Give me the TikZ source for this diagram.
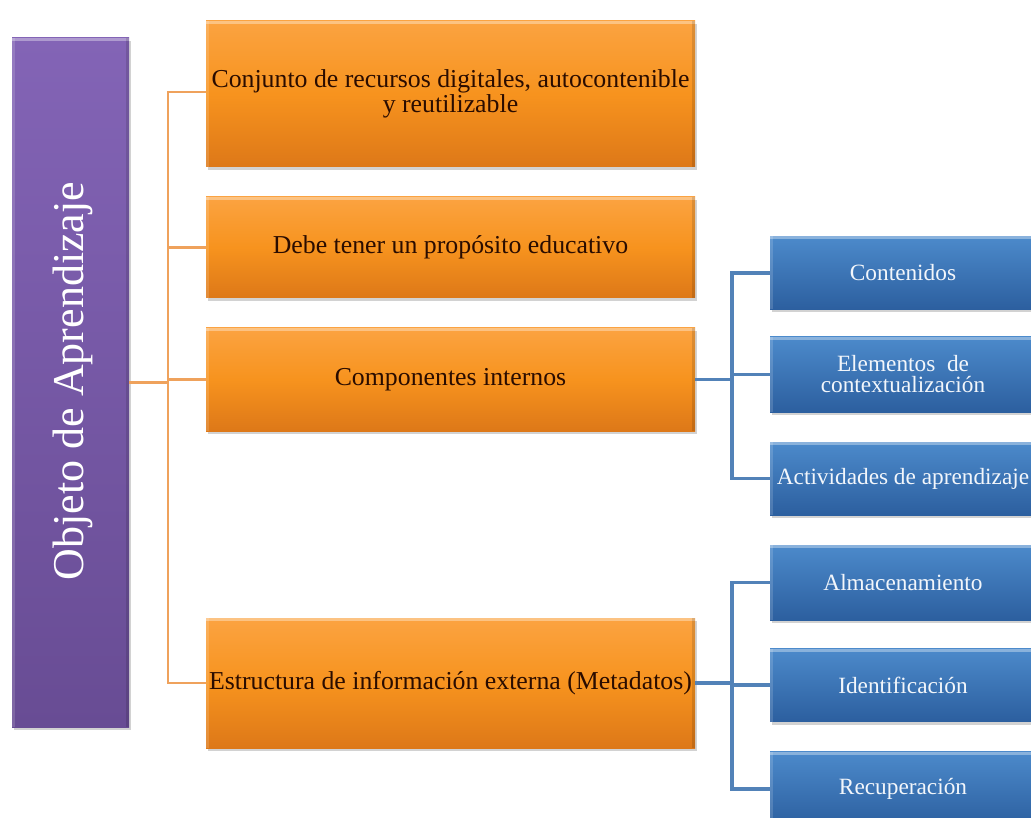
\documentclass[tikz,border=0pt]{standalone}
\usepackage{fontspec}
\setmainfont{Liberation Serif}
\usetikzlibrary{shadows}

\definecolor{purpTop}{HTML}{8364B6}
\definecolor{purpBot}{HTML}{684C94}
\definecolor{orTop}{HTML}{FBA341}
\definecolor{orMid}{HTML}{F7931E}
\definecolor{orBot}{HTML}{DD7818}
\definecolor{blTop}{HTML}{4C8ACB}
\definecolor{blBot}{HTML}{2C5F9F}
\definecolor{orLine}{HTML}{EFA25C}
\definecolor{blLine}{HTML}{5282B8}
\definecolor{orText}{HTML}{2A0C00}
\definecolor{blText}{HTML}{F2F6FB}

\tikzset{
  card/.style={rectangle, inner sep=0pt, align=center,
    drop shadow={opacity=0.35, shadow xshift=2pt, shadow yshift=-3pt},
    path picture={
      \fill[white,opacity=0.35]
        (path picture bounding box.north west) rectangle
        ([yshift=-3pt]path picture bounding box.north east);
      \fill[white,opacity=0.15]
        (path picture bounding box.north west) rectangle
        ([xshift=3pt]path picture bounding box.south west);
      \fill[black,opacity=0.12]
        (path picture bounding box.north east) rectangle
        ([xshift=-3pt]path picture bounding box.south east);
    }},
  purpbox/.style={card, top color=purpTop, bottom color=purpBot,
    minimum width=117pt, minimum height=689pt},
  orbox/.style={card, top color=orTop, bottom color=orBot, middle color=orMid,
    minimum width=489pt, text=orText,
    font=\fontsize{25.8}{28}\selectfont},
  blbox/.style={card, top color=blTop, bottom color=blBot,
    minimum width=266pt, minimum height=73pt, text=blText,
    font=\fontsize{23.3}{25}\selectfont},
  oline/.style={orLine, line width=2.6pt},
  bline/.style={blLine, line width=3.2pt},
}

\begin{document}
\begin{tikzpicture}[x=1pt, y=-1pt]
  \useasboundingbox (0,0) rectangle (1031,818);
  \clip (0,0) rectangle (1031,818);
  \fill[white] (0,0) rectangle (1031,818);

  % left title bar
  \node[purpbox] (purp) at (70.5,382.5) {};
  \node[rotate=90, text=white, font=\fontsize{44}{48}\selectfont]
    (purptxt) at (73,381) {Objeto de Aprendizaje};

  % first-level items
  \node[orbox, minimum height=146pt] (o1) at (450.5,94)
    {Conjunto de recursos digitales, autocontenible\\[-3pt]y reutilizable};
  \node[orbox, minimum height=101pt] (o2) at (450.5,247.5)
    {Debe tener un propósito educativo};
  \node[orbox, minimum height=103pt] (o3) at (450.5,379.5)
    {Componentes internos};
  \node[orbox, minimum height=130pt] (o4) at (450.5,683)
    {Estructura de información externa (Metadatos)};

  % second-level items
  \node[blbox] (b1) at (903,273) {Contenidos};
  \node[blbox, minimum height=75pt] (b2) at (903,374.5)
    {Elementos \ de\\[-4pt]contextualización};
  \node[blbox] (b3) at (903,478.5) {Actividades de aprendizaje};
  \node[blbox, minimum height=75pt] (b4) at (903,582.5) {Almacenamiento};
  \node[blbox] (b5) at (903,685) {Identificación};
  \node[blbox, minimum height=75pt] (b6) at (903,789) {Recuperación};

  % junction points
  \coordinate (jo) at (168,382.5);
  \coordinate (jb) at (732,379.5);
  \coordinate (jc) at (732,683);

  % orange connectors
  \draw[oline] (purp.east) -- (jo);
  \draw[oline] ([yshift=2pt]o1.west) -| (jo) |- (o4.west);
  \draw[oline] (o2.west) -- (jo |- o2.west);
  \draw[oline] (o3.west) -- (jo |- o3.west);

  % blue connectors
  \draw[bline] (o3.east) -- (jb);
  \draw[bline] (b1.west) -| (jb) |- (b3.west);
  \draw[bline] (b2.west) -- (jb |- b2.west);
  \draw[bline] (o4.east) -- (jc);
  \draw[bline] (b4.west) -| (jc) |- (b6.west);
  \draw[bline] (b5.west) -- (jc |- b5.west);
\end{tikzpicture}
\end{document}
